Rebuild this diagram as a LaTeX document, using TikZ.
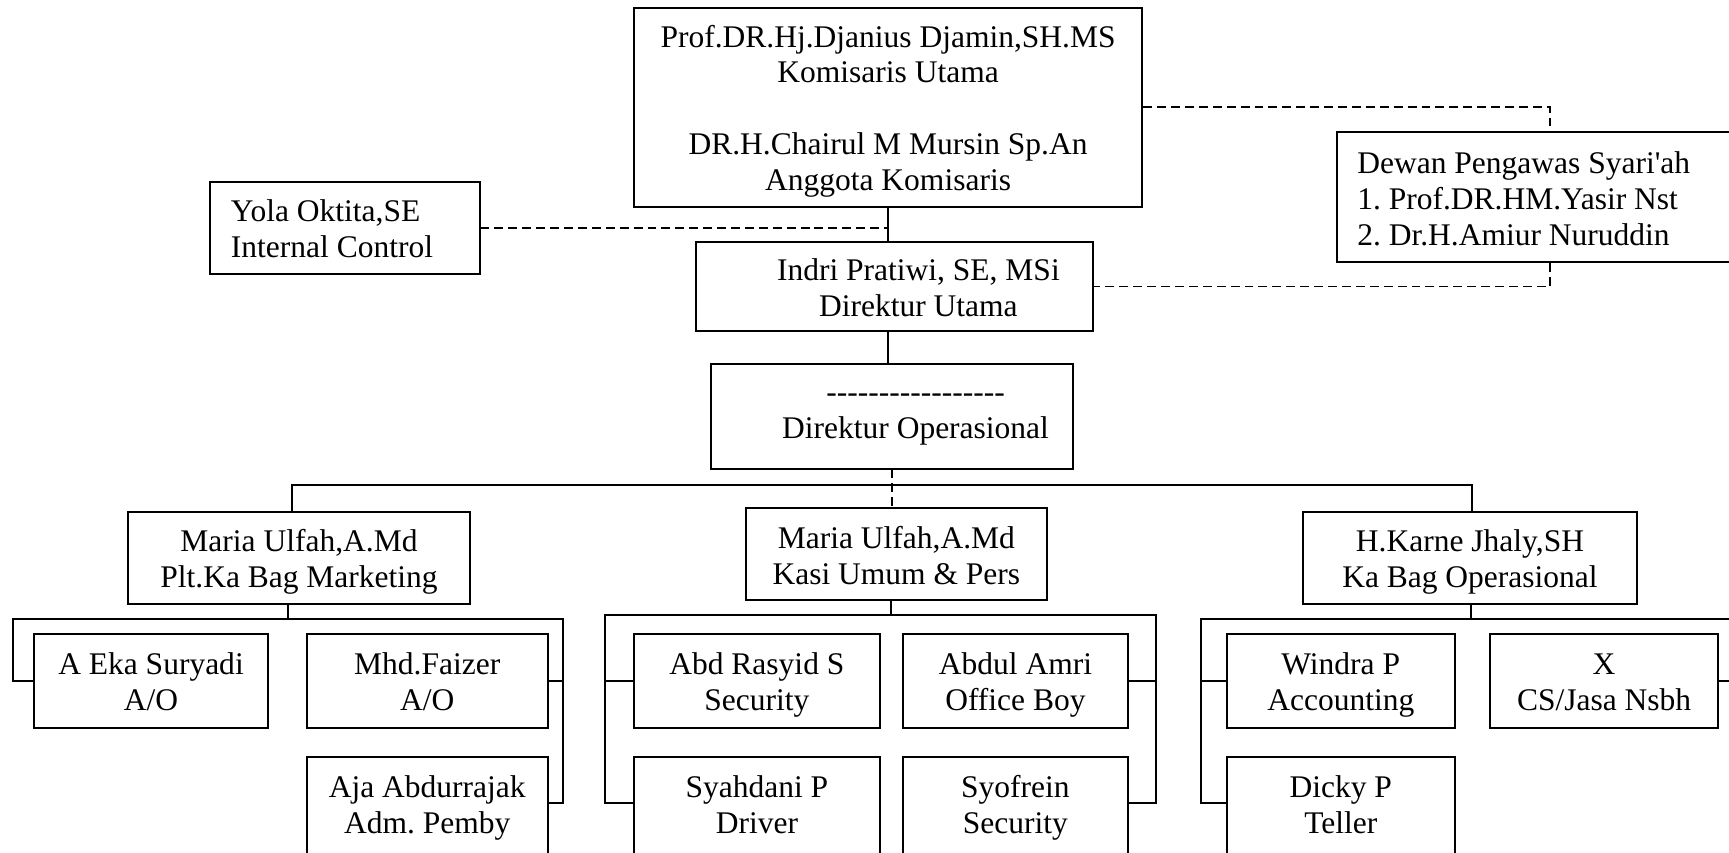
\documentclass[tikz,border=0pt]{standalone}
\usepackage{fontspec}
\setmainfont{Liberation Serif}

% plain glyphs, so that no ligature or quote mapping touches them
\newcommand\hy{\XeTeXglyph\XeTeXcharglyph"002D\relax}
\newcommand\apos{\XeTeXglyph\XeTeXcharglyph"0027\relax}
\newcommand\dashrow{\foreach \k in {1,...,17}{\hy}}

\begin{document}
\begin{tikzpicture}[x=0.42pt, y=-0.42pt,
    box/.style = {draw, line width=0.75pt, inner sep=0pt, align=center, anchor=north west,
        font=\fontsize{12}{13.7}\selectfont\frenchspacing,
        execute at end node={\rule[-3pt]{0pt}{3pt}}},
    cbox/.style = {box, text height=25.7pt},
    lowbox/.style = {box, execute at end node={\rule[-6pt]{0pt}{0pt}}},
    wh/.style 2 args = {minimum width=#1*0.42pt, minimum height=#2*0.42pt},
    leftbox/.style = {align=flush left, inner xsep=#1*0.42pt,
        execute at begin node={\rule{0pt}{12pt}}},
    link/.style = {line width=0.75pt},
    dashlink/.style = {line width=0.6pt, dash pattern=on 3.4pt off 1.9pt}]
    \useasboundingbox (0,0) rectangle (1568,773);
    \clip (0,0) rectangle (1568,773);
    \fill[white] (0,0) rectangle (1568,773);

    % top levels
    \node[cbox, text height=66.8pt, wh={461}{180.5}] (kom) at (574,6)
        {Prof.DR.Hj.Djanius Djamin,SH.MS\\Komisaris Utama\\[13.7pt]DR.H.Chairul M Mursin Sp.An\\Anggota Komisaris};
    \node[box, leftbox=19, text width=86.7pt, wh={244.5}{83.5}] (yola) at (189.5,164)
        {Yola Oktita,SE\\Internal Control};
    \node[box, leftbox=18, text width=147pt, wh={386}{118}] (dewan) at (1212,119)
        {Dewan Pengawas Syari\apos ah\\1. Prof.DR.HM.Yasir Nst\\2. Dr.H.Amiur Nuruddin};
    \node[cbox, wh={360}{80}] (diru) at (630,219)
        {\hspace*{18.5pt}Indri Pratiwi, SE, MSi\\\hspace*{18.5pt}Direktur Utama};
    \node[cbox, text height=19.9pt, wh={328}{95}] (dirops) at (644,329)
        {\hspace*{18pt}\dashrow\\\hspace*{18pt}Direktur Operasional};

    % kepala bagian
    \node[cbox, wh={310.6}{83.6}] (mkt) at (115,463.4) {Maria Ulfah,A.Md\\Plt.Ka Bag Marketing};
    \node[cbox, wh={273}{83.5}] (kasi) at (675.5,460) {Maria Ulfah,A.Md\\Kasi Umum \& Pers};
    \node[cbox, wh={302.4}{83.6}] (ops) at (1181,463.4) {H.Karne Jhaly,SH\\Ka Bag Operasional};

    % staff
    \node[cbox, wh={211.7}{84.7}] (eka) at (30.2,574.3) {A Eka Suryadi\\A/O};
    \node[cbox, wh={218.8}{84.7}] (faizer) at (277.2,574.3) {Mhd.Faizer\\A/O};
    \node[lowbox, wh={218.8}{100}] (aja) at (277.2,685.6) {Aja Abdurrajak\\Adm. Pemby};
    \node[cbox, wh={223}{84.7}] (rasyid) at (574,574.3) {Abd Rasyid S\\Security};
    \node[cbox, wh={204}{84.7}] (amri) at (818,574.3) {Abdul Amri\\Office Boy};
    \node[lowbox, wh={223}{100}] (syahdani) at (574,685.6) {Syahdani P\\Driver};
    \node[lowbox, wh={204}{100}] (syofrein) at (818,685.6) {Syofrein\\Security};
    \node[cbox, wh={207.1}{84.7}] (windra) at (1111.5,574.3) {Windra P\\Accounting};
    \node[cbox, wh={207.1}{84.7}] (xcs) at (1350.3,574.3) {X\\CS/Jasa Nsbh};
    \node[lowbox, wh={207.1}{100}] (dicky) at (1111.5,685.6) {Dicky P\\Teller};

    \coordinate (busL) at (265,439.8);
    \coordinate (busR) at (1335,439.8);
    \coordinate (mktD) at (261,561.4);
    \coordinate (mktL) at (12.1,561.4);
    \coordinate (mktR) at (510.8,561.4);
    \coordinate (kasiD) at (808,558);
    \coordinate (kasiL) at (549,558);
    \coordinate (kasiR) at (1048,558);
    \coordinate (opsD) at (1333.7,561.4);
    \coordinate (opsL) at (1089,561.4);
    \coordinate (opsR) at (1590,561.4);
    \coordinate (lowrow) at (0,728);

    \draw[link] (kom.south) -- (kom.south |- diru.north);
    \draw[link] (kom.south |- diru.south) -- (kom.south |- dirops.north);
    \draw[dashlink] (kom.east) -| (dewan.north);
    \draw[dashlink] (dewan.south) |- (diru.east);
    \draw[dashlink] (yola.east) -- (yola.east -| kom.south);
    \draw[dashlink] (dirops.south) -- (dirops.south |- kasi.north);

    \draw[link] (busL |- mkt.north) -- (busL) -- (busR) -- (busR |- ops.north);

    \draw[link] (mktD |- mkt.south) -- (mktD);
    \draw[link] (eka.west) -| (mktL) -- (mktR) |- (faizer.east);
    \draw[link] (mktR) |- (aja.east |- lowrow);

    \draw[link] (kasiD |- kasi.south) -- (kasiD);
    \draw[link] (rasyid.west) -| (kasiL) -- (kasiR) |- (amri.east);
    \draw[link] (kasiL) |- (syahdani.west |- lowrow);
    \draw[link] (kasiR) |- (syofrein.east |- lowrow);

    \draw[link] (opsD |- ops.south) -- (opsD);
    \draw[link] (windra.west) -| (opsL) -- (opsR) |- (xcs.east);
    \draw[link] (opsL) |- (dicky.west |- lowrow);
\end{tikzpicture}
\end{document}
